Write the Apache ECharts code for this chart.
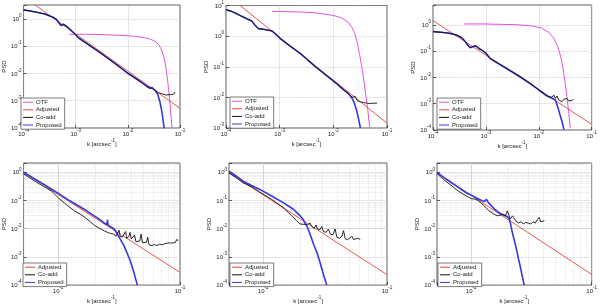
<!DOCTYPE html>
<html><head><meta charset="utf-8">
<script src="https://cdn.jsdelivr.net/npm/echarts@6/dist/echarts.min.js"></script>
<style>html,body{margin:0;padding:0;background:#fff}#c{width:600px;height:305px}</style>
</head><body><div id="c"></div>
<script>
// ---- DATA (values are log10 exponents: k in arcsec^-1, PSD) ----
const topXExps = [-4, -3, -2, -1];
const botXExps = [-2, -1];
const p1YExps = [-4, -3, -2, -1, 0];
const p2YExps = [-3, -2, -1, 0, 1];
const p3YExps = [-4, -3, -2, -1, 0];
const botYExps = [-4, -3, -2, -1, 0];
const legendTop = ['OTF', 'Adjusted', 'Co-add', 'Proposed'];
const legendBot = ['Adjusted', 'Co-add', 'Proposed'];

// Panel 1 (top left)
const p1_otf_k = [-3.124,-2.812,-2.499,-2.186,-1.873,-1.686,-1.561,-1.467,-1.404,-1.354,-1.311,-1.273,-1.242,-1.217,-1.192,-1.173,-1.154];
const p1_otf_p = [-0.563,-0.563,-0.575,-0.600,-0.636,-0.685,-0.746,-0.832,-0.954,-1.138,-1.382,-1.749,-2.177,-2.606,-3.095,-3.523,-4.012];
const p1_adj_k = [-3.781, -1.0];
const p1_adj_p = [0.514, -3.278];
const p1_coadd_k = [-4.0,-3.875,-3.75,-3.593,-3.437,-3.374,-3.324,-3.281,-3.237,-3.187,-3.124,-3.031,-2.937,-2.749,-2.499,-2.249,-1.999,-1.748,-1.623,-1.573,-1.529,-1.486,-1.448,-1.411,-1.373,-1.336,-1.298,-1.261,-1.223,-1.186,-1.154,-1.123,-1.092];
const p1_coadd_p = [0.33,0.293,0.244,0.183,0.061,-0.013,-0.135,-0.245,-0.196,-0.257,-0.355,-0.526,-0.71,-0.954,-1.285,-1.627,-1.994,-2.312,-2.508,-2.557,-2.508,-2.63,-2.606,-2.704,-2.679,-2.752,-2.728,-2.789,-2.74,-2.777,-2.728,-2.765,-2.679];
const p1_prop_k = [-4.0,-3.875,-3.75,-3.593,-3.437,-3.374,-3.324,-3.281,-3.237,-3.187,-3.124,-3.031,-2.937,-2.749,-2.499,-2.249,-1.999,-1.748,-1.623,-1.529,-1.467,-1.423,-1.386,-1.354,-1.329,-1.304];
const p1_prop_p = [0.33,0.293,0.244,0.183,0.061,-0.013,-0.135,-0.245,-0.196,-0.257,-0.355,-0.526,-0.71,-0.954,-1.285,-1.627,-1.994,-2.312,-2.483,-2.545,-2.63,-2.789,-3.034,-3.34,-3.645,-4.012];

// Panel 2 (top middle)
const p2_otf_k = [-3.146,-2.866,-2.617,-2.368,-2.118,-1.932,-1.807,-1.713,-1.651,-1.601,-1.558,-1.514,-1.47,-1.433,-1.396,-1.358,-1.321];
const p2_otf_p = [0.808,0.798,0.787,0.765,0.711,0.646,0.56,0.43,0.278,0.083,-0.187,-0.566,-0.999,-1.432,-1.919,-2.406,-3.001];
const p2_adj_k = [-3.738, -1.0];
const p2_adj_p = [1.0, -2.84];
const p2_coadd_k = [-4.0,-3.894,-3.801,-3.707,-3.614,-3.52,-3.458,-3.396,-3.302,-3.209,-3.146,-3.084,-2.991,-2.804,-2.617,-2.368,-2.118,-1.932,-1.807,-1.713,-1.651,-1.62,-1.589,-1.558,-1.526,-1.495,-1.464,-1.433,-1.402,-1.371,-1.34,-1.308,-1.277,-1.246,-1.215,-1.184];
const p2_coadd_p = [0.862,0.808,0.733,0.646,0.57,0.495,0.354,0.246,0.224,0.192,0.17,0.083,-0.079,-0.328,-0.566,-0.945,-1.302,-1.562,-1.757,-1.886,-1.995,-2.06,-1.973,-2.103,-2.06,-2.146,-2.081,-2.168,-2.103,-2.19,-2.135,-2.2,-2.146,-2.19,-2.168,-2.19];
const p2_prop_k = [-4.0,-3.894,-3.801,-3.707,-3.614,-3.52,-3.458,-3.396,-3.302,-3.209,-3.146,-3.084,-2.991,-2.804,-2.617,-2.368,-2.118,-1.932,-1.807,-1.713,-1.651,-1.608,-1.57,-1.533,-1.495];
const p2_prop_p = [0.862,0.808,0.733,0.646,0.57,0.495,0.354,0.246,0.224,0.192,0.17,0.083,-0.079,-0.328,-0.566,-0.945,-1.302,-1.562,-1.757,-1.886,-2.027,-2.19,-2.406,-2.677,-3.001];

// Panel 3 (top right)
const p3_otf_k = [-3.405,-3.061,-2.749,-2.436,-2.123,-1.936,-1.811,-1.717,-1.642,-1.585,-1.542,-1.504,-1.467,-1.435,-1.404];
const p3_otf_p = [0.038,0.038,0.025,0.012,-0.038,-0.127,-0.28,-0.508,-0.826,-1.207,-1.651,-2.159,-2.73,-3.302,-3.937];
const p3_adj_k = [-4.0, -1.0];
const p3_adj_p = [0.165, -3.784];
const p3_coadd_k = [-4.0,-3.843,-3.687,-3.562,-3.468,-3.405,-3.343,-3.299,-3.249,-3.199,-3.136,-3.061,-2.986,-2.924,-2.842,-2.749,-2.561,-2.373,-2.186,-1.998,-1.842,-1.748,-1.717,-1.685,-1.654,-1.623,-1.592,-1.56,-1.529,-1.498,-1.467,-1.435,-1.404,-1.373,-1.342];
const p3_coadd_p = [-0.254,-0.28,-0.318,-0.381,-0.47,-0.597,-0.762,-0.864,-0.826,-0.788,-0.889,-0.978,-1.105,-1.27,-1.372,-1.486,-1.715,-1.943,-2.197,-2.476,-2.705,-2.756,-2.667,-2.794,-2.705,-2.857,-2.807,-2.921,-2.832,-2.883,-2.794,-2.895,-2.832,-2.883,-2.819];
const p3_prop_k = [-4.0,-3.843,-3.687,-3.562,-3.468,-3.405,-3.343,-3.299,-3.249,-3.199,-3.136,-3.061,-2.986,-2.924,-2.842,-2.749,-2.561,-2.373,-2.186,-1.998,-1.842,-1.748,-1.685,-1.642,-1.598,-1.56,-1.523];
const p3_prop_p = [-0.254,-0.28,-0.318,-0.381,-0.47,-0.597,-0.762,-0.864,-0.826,-0.788,-0.889,-0.978,-1.105,-1.27,-1.372,-1.486,-1.715,-1.943,-2.197,-2.476,-2.705,-2.794,-2.857,-3.111,-3.429,-3.683,-3.996];

// Panel 4 (bottom left)
const p4_adj_k = [-2.284, -1.0];
const p4_adj_p = [0.0, -3.55];
const p4_coadd_k = [-2.284,-2.25,-2.19,-2.12,-2.054,-2.0,-1.96,-1.92,-1.865,-1.82,-1.78,-1.74,-1.7,-1.65,-1.62,-1.595,-1.57,-1.541,-1.527,-1.514,-1.5,-1.492,-1.473,-1.459,-1.446,-1.438,-1.419,-1.411,-1.4,-1.384,-1.373,-1.362,-1.346,-1.33,-1.319,-1.308,-1.292,-1.276,-1.265,-1.254,-1.23,-1.211,-1.189,-1.168,-1.146,-1.124,-1.108,-1.086,-1.068,-1.054,-1.038,-1.027,-1.014];
const p4_coadd_p = [-0.06,-0.15,-0.32,-0.5,-0.67,-0.9,-1.05,-1.19,-1.37,-1.48,-1.6,-1.74,-1.89,-2.01,-2.08,-2.13,-2.17,-2.19,-2.27,-2.22,-2.05,-2.27,-2.3,-2.27,-2.1,-2.34,-2.27,-2.13,-2.36,-2.38,-2.22,-2.46,-2.48,-2.43,-2.19,-2.5,-2.54,-2.48,-2.3,-2.57,-2.6,-2.56,-2.6,-2.55,-2.57,-2.53,-2.55,-2.5,-2.51,-2.46,-2.49,-2.38,-2.43];
const p4_prop_k = [-2.284,-2.2,-2.12,-2.054,-1.98,-1.92,-1.85,-1.78,-1.72,-1.66,-1.62,-1.6,-1.595,-1.59,-1.57,-1.54,-1.5,-1.46,-1.41,-1.38,-1.35];
const p4_prop_p = [0.0,-0.22,-0.42,-0.6,-0.8,-0.97,-1.15,-1.33,-1.5,-1.67,-1.8,-1.86,-1.69,-1.88,-1.93,-2.01,-2.3,-2.6,-3.12,-3.53,-4.0];

// Panel 5 (bottom middle)
const p5_adj_k = [-2.276, -1.0];
const p5_adj_p = [-0.02, -3.63];
const p5_coadd_k = [-2.276,-2.216,-2.162,-2.094,-2.027,-1.932,-1.838,-1.784,-1.729,-1.702,-1.689,-1.662,-1.643,-1.621,-1.608,-1.589,-1.573,-1.562,-1.54,-1.527,-1.513,-1.492,-1.473,-1.459,-1.437,-1.427,-1.419,-1.405,-1.383,-1.365,-1.351,-1.337,-1.318,-1.302,-1.283,-1.27,-1.254,-1.237,-1.216];
const p5_coadd_p = [-0.022,-0.198,-0.373,-0.513,-0.701,-0.958,-1.25,-1.484,-1.718,-1.835,-1.8,-1.847,-1.87,-1.8,-1.917,-1.987,-1.87,-2.01,-2.034,-1.917,-2.104,-2.127,-2.01,-2.186,-2.221,-2.268,-2.01,-2.303,-2.338,-2.268,-2.069,-2.361,-2.385,-2.338,-2.268,-2.385,-2.361,-2.338,-2.385];
const p5_prop_k = [-2.276,-2.216,-2.162,-2.094,-2.027,-1.932,-1.838,-1.756,-1.702,-1.675,-1.662,-1.648,-1.627,-1.608,-1.589,-1.567,-1.546,-1.527,-1.508,-1.486];
const p5_prop_p = [0.036,-0.139,-0.315,-0.467,-0.607,-0.841,-1.075,-1.309,-1.543,-1.683,-1.8,-1.894,-2.127,-2.361,-2.595,-2.829,-3.122,-3.414,-3.706,-3.999];

// Panel 6 (bottom right)
const p6_adj_k = [-2.284, -1.0];
const p6_adj_p = [-0.02, -3.62];
const p6_coadd_k = [-2.284,-2.23,-2.176,-2.108,-2.041,-2.0,-1.96,-1.919,-1.892,-1.852,-1.811,-1.784,-1.757,-1.738,-1.716,-1.7,-1.689,-1.676,-1.657,-1.641,-1.63,-1.608,-1.587,-1.568,-1.549,-1.527,-1.506,-1.487,-1.468,-1.452,-1.435,-1.424,-1.408,-1.392];
const p6_coadd_p = [-0.046,-0.256,-0.432,-0.665,-0.841,-0.934,-0.958,-1.075,-1.192,-1.367,-1.484,-1.543,-1.519,-1.484,-1.543,-1.367,-1.484,-1.66,-1.543,-1.601,-1.718,-1.8,-1.753,-1.835,-1.777,-1.8,-1.835,-1.753,-1.8,-1.683,-1.601,-1.753,-1.718,-1.718];
const p6_prop_k = [-2.284,-2.203,-2.122,-2.041,-1.96,-1.892,-1.873,-1.857,-1.811,-1.771,-1.743,-1.716,-1.689,-1.676,-1.662,-1.649,-1.635,-1.622,-1.608,-1.595,-1.581,-1.56];
const p6_prop_p = [0.0,-0.256,-0.49,-0.724,-0.899,-1.04,-0.958,-1.075,-1.285,-1.426,-1.496,-1.543,-1.601,-1.777,-2.069,-2.303,-2.537,-2.771,-3.063,-3.297,-3.589,-3.999];

// ---- STYLE / LAYOUT ----
const FONT = '"Liberation Sans", Arial, Helvetica, sans-serif';
const COL = {'OTF':'#e052e0', 'Adjusted':'#e8453c', 'Co-add':'#111111', 'Proposed':'#3636e6'};
const LW = {'OTF':1, 'Adjusted':0.9, 'Co-add':0.9, 'Proposed':1.6};

const panels = [
  {g:{left:20, top:5, width:160, height:123}, xr:[-4,-1], yr:[-4,0.51], xt:topXExps, yt:p1YExps, lg:{left:21, top:98}, names:legendTop, minor:false,
   s:{'OTF':[p1_otf_k,p1_otf_p], 'Adjusted':[p1_adj_k,p1_adj_p], 'Proposed':[p1_prop_k,p1_prop_p], 'Co-add':[p1_coadd_k,p1_coadd_p]}},
  {g:{left:226, top:5, width:161, height:123}, xr:[-4,-1], yr:[-3,1], xt:topXExps, yt:p2YExps, lg:{left:230, top:97}, names:legendTop, minor:false,
   s:{'OTF':[p2_otf_k,p2_otf_p], 'Adjusted':[p2_adj_k,p2_adj_p], 'Proposed':[p2_prop_k,p2_prop_p], 'Co-add':[p2_coadd_k,p2_coadd_p]}},
  {g:{left:433, top:5, width:160, height:125}, xr:[-4,-1], yr:[-4,0.76], xt:topXExps, yt:p3YExps, lg:{left:437, top:98}, names:legendTop, minor:false,
   s:{'OTF':[p3_otf_k,p3_otf_p], 'Adjusted':[p3_adj_k,p3_adj_p], 'Proposed':[p3_prop_k,p3_prop_p], 'Co-add':[p3_coadd_k,p3_coadd_p]}},
  {g:{left:22, top:163, width:158, height:124}, xr:[-2.284,-1], yr:[-4,0.33], xt:botXExps, yt:botYExps, lg:{left:23, top:263}, names:legendBot, minor:true,
   s:{'Adjusted':[p4_adj_k,p4_adj_p], 'Proposed':[p4_prop_k,p4_prop_p], 'Co-add':[p4_coadd_k,p4_coadd_p]}},
  {g:{left:229, top:163, width:158, height:124}, xr:[-2.276,-1], yr:[-4,0.33], xt:botXExps, yt:botYExps, lg:{left:230, top:263}, names:legendBot, minor:true,
   s:{'Adjusted':[p5_adj_k,p5_adj_p], 'Proposed':[p5_prop_k,p5_prop_p], 'Co-add':[p5_coadd_k,p5_coadd_p]}},
  {g:{left:437, top:163, width:158, height:124}, xr:[-2.284,-1], yr:[-4,0.33], xt:botXExps, yt:botYExps, lg:{left:438, top:263}, names:legendBot, minor:true,
   s:{'Adjusted':[p6_adj_k,p6_adj_p], 'Proposed':[p6_prop_k,p6_prop_p], 'Co-add':[p6_coadd_k,p6_coadd_p]}}
];

const rich = {
  b:{fontSize:6, lineHeight:7, verticalAlign:'bottom', color:'#222', fontFamily:FONT},
  s:{fontSize:4.5, lineHeight:4.5, padding:[0,0,4,0], verticalAlign:'bottom', color:'#222', fontFamily:FONT}
};
function expLabel(allowed){
  return function(v){
    const e = Math.log10(v), r = Math.round(e);
    if (Math.abs(e - r) > 1e-6 || allowed.indexOf(r) < 0) return '';
    return '{b|10}{s|' + r + '}';
  };
}
function pts(kExp, pExp){ return kExp.map((e,i) => [Math.pow(10, e), Math.pow(10, pExp[i])]); }

function minorLines(xr, yr){
  const out = [];
  for (let e = Math.floor(xr[0]); e < xr[1]; e++) for (let m = 2; m <= 9; m++) {
    const v = m * Math.pow(10, e); const l = Math.log10(v);
    if (l > xr[0] && l < xr[1]) out.push({xAxis: v});
  }
  for (let e = Math.floor(yr[0]); e < yr[1]; e++) for (let m = 2; m <= 9; m++) {
    const v = m * Math.pow(10, e); const l = Math.log10(v);
    if (l > yr[0] && l < yr[1]) out.push({yAxis: v});
  }
  return out;
}

const option = {animation:false, backgroundColor:'#fff', textStyle:{fontFamily:FONT},
  grid:[], xAxis:[], yAxis:[], series:[], legend:[]};

const order = ['OTF', 'Adjusted', 'Proposed', 'Co-add'];
panels.forEach((p, i) => {
  option.grid.push(Object.assign({show:true, borderColor:'#333', borderWidth:0.8, backgroundColor:'rgba(0,0,0,0)'}, p.g));
  option.xAxis.push({type:'log', logBase:10, gridIndex:i, min:Math.pow(10,p.xr[0]), max:Math.pow(10,p.xr[1]),
    axisLine:{show:false}, axisTick:{show:true, inside:true, length:3, lineStyle:{color:'#333', width:0.8}},
    axisLabel:{formatter:expLabel(p.xt), rich:rich, margin:2, showMinLabel:true, showMaxLabel:true},
    splitLine:{show:true, lineStyle:{type:'dotted', color:'#b8b8b8', width:0.7}},
    name:'{n|k [arcsec}{s|-1}{n|]}', nameLocation:'middle', nameGap:9,
    nameTextStyle:{rich:{n:{fontSize:6, lineHeight:7, verticalAlign:'bottom', color:'#222', fontFamily:FONT}, s:rich.s}}});
  option.yAxis.push({type:'log', logBase:10, gridIndex:i, min:Math.pow(10,p.yr[0]), max:Math.pow(10,p.yr[1]),
    axisLine:{show:false}, axisTick:{show:true, inside:true, length:3, lineStyle:{color:'#333', width:0.8}},
    axisLabel:{formatter:expLabel(p.yt), rich:rich, margin:2},
    splitLine:{show:true, lineStyle:{type:'dotted', color:'#b8b8b8', width:0.7}},
    name:'PSD', nameLocation:'middle', nameGap:11, nameRotate:90,
    nameTextStyle:{fontSize:6, color:'#222', fontFamily:FONT}});
  order.forEach(nm => {
    if (!p.s[nm]) return;
    const ser = {type:'line', name:nm, xAxisIndex:i, yAxisIndex:i, data:pts(p.s[nm][0], p.s[nm][1]),
      showSymbol:false, symbol:'none', silent:true, color:COL[nm], z:3,
      lineStyle:{color:COL[nm], width:LW[nm]}, emphasis:{disabled:true}};
    if (nm === 'Adjusted' && p.minor) {
      ser.markLine = {silent:true, symbol:['none','none'], label:{show:false}, z:1,
        lineStyle:{type:'dotted', color:'#d4d4d4', width:0.6}, emphasis:{disabled:true},
        data:minorLines(p.xr, p.yr)};
    }
    option.series.push(ser);
  });
  option.legend.push({left:p.lg.left, top:p.lg.top, orient:'vertical', data:p.names, selectedMode:false,
    icon:'rect', itemWidth:10, itemHeight:1, itemGap:1.2, padding:[1,3,1,2],
    borderColor:'#444', borderWidth:0.7, backgroundColor:'#fff',
    textStyle:{fontSize:6, lineHeight:6.4, color:'#222', fontFamily:FONT, padding:[0,0,0,-2]}});
});

const chart = echarts.init(document.getElementById('c'), null, {renderer:'canvas'});
chart.setOption(option);
</script>
</body></html>
